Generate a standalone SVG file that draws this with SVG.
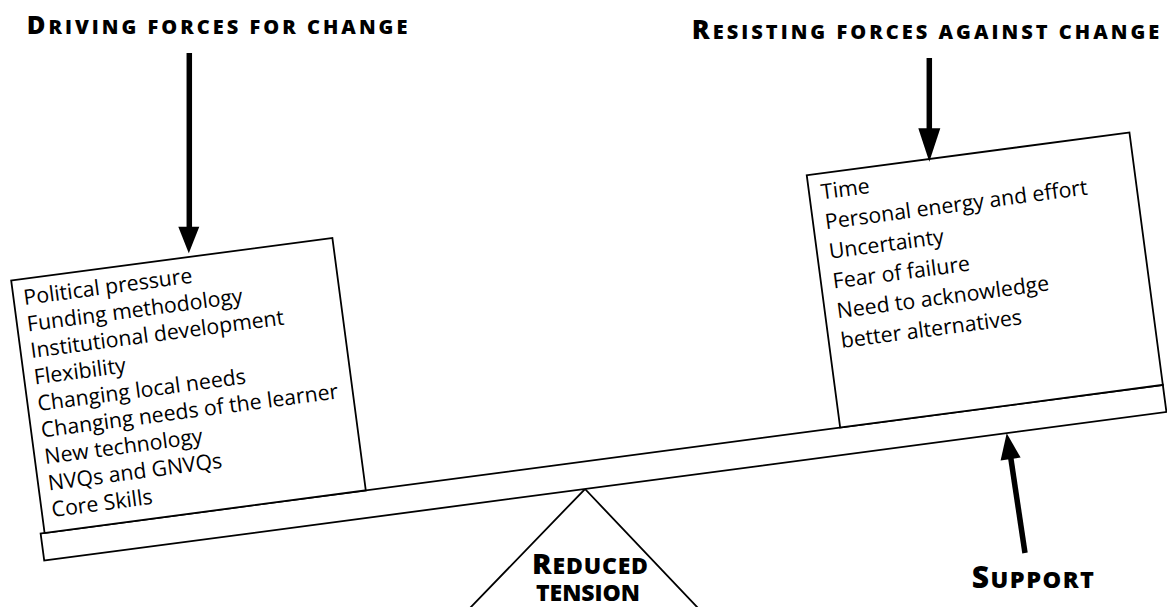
<svg xmlns="http://www.w3.org/2000/svg" width="1167" height="607" viewBox="0 0 1167 607">
<style>
.ln{fill:#fff;stroke:#000;stroke-width:1.8}
.body{font-family:"Open Sans","Liberation Sans",sans-serif;font-size:21.3px;fill:#000}
.hd{font-family:"Open Sans","Liberation Sans",sans-serif;font-weight:800;fill:#000}
.shaft{stroke:#000;stroke-width:5.5;fill:none}
.head{fill:#000;stroke:none}
</style>
<rect width="1167" height="607" fill="#fff"/>
<g id="fulcrum">
<polyline class="ln" points="470,608 585,489 698,608" style="fill:none"/>
<text class="hd" x="590" y="574" text-anchor="middle" textLength="116" lengthAdjust="spacing"><tspan font-size="29">R</tspan><tspan font-size="23">EDUCED</tspan></text>
<text class="hd" x="588" y="601" text-anchor="middle" font-size="23" textLength="104" lengthAdjust="spacing">TENSION</text>
</g>
<g transform="rotate(-7.54 585 489)">
<g id="beam">
<rect class="ln" x="39.5" y="461.6" width="1132" height="27.4"/>
</g>
<g id="driving-box">
<rect class="ln" x="43.5" y="207" width="324" height="254.6"/>
<text class="body">
<tspan x="53.5" y="233">Political pressure</tspan>
<tspan x="53.5" y="259.75">Funding methodology</tspan>
<tspan x="53.5" y="286.5">Institutional development</tspan>
<tspan x="53.5" y="313.25">Flexibility</tspan>
<tspan x="53.5" y="340">Changing local needs</tspan>
<tspan x="53.5" y="366.75">Changing needs of the learner</tspan>
<tspan x="53.5" y="393.5">New technology</tspan>
<tspan x="53.5" y="420.25">NVQs and GNVQs</tspan>
<tspan x="53.5" y="447">Core Skills</tspan>
</text>
</g>
<g id="resisting-box">
<rect class="ln" x="846" y="207" width="325.5" height="254.6"/>
<text class="body">
<tspan x="858" y="233">Time</tspan>
<tspan x="858" y="263">Personal energy and effort</tspan>
<tspan x="858" y="293">Uncertainty</tspan>
<tspan x="858" y="323">Fear of failure</tspan>
<tspan x="858" y="353">Need to acknowledge</tspan>
<tspan x="858" y="383">better alternatives</tspan>
</text>
</g>
</g>
<g id="driving-label">
<text class="hd" x="26.7" y="34.3" textLength="380.7" lengthAdjust="spacing"><tspan font-size="25.5">D</tspan><tspan font-size="20">RIVING FORCES FOR CHANGE</tspan></text>
</g>
<g id="resisting-label">
<text class="hd" x="691.7" y="39.3" textLength="467.6" lengthAdjust="spacing"><tspan font-size="26.5">R</tspan><tspan font-size="20">ESISTING FORCES AGAINST CHANGE</tspan></text>
</g>
<g id="support-label">
<text class="hd" x="971.7" y="588.3" textLength="122.3" lengthAdjust="spacing"><tspan font-size="30">S</tspan><tspan font-size="23.5">UPPORT</tspan></text>
</g>
<g id="connectors">
<line class="shaft" x1="189.3" y1="53" x2="189.3" y2="228"/>
<polygon class="head" points="178.3,226.7 199.3,226.7 188.8,253.3"/>
<line class="shaft" x1="929.3" y1="58" x2="929.3" y2="130"/>
<polygon class="head" points="918.3,128.3 940.3,128.3 929.3,161.7"/>
<line class="shaft" x1="1025" y1="553" x2="1010.8" y2="458"/>
<polygon class="head" points="1000.6,460.6 1020.6,457.5 1006.7,433.3"/>
</g>
</svg>
